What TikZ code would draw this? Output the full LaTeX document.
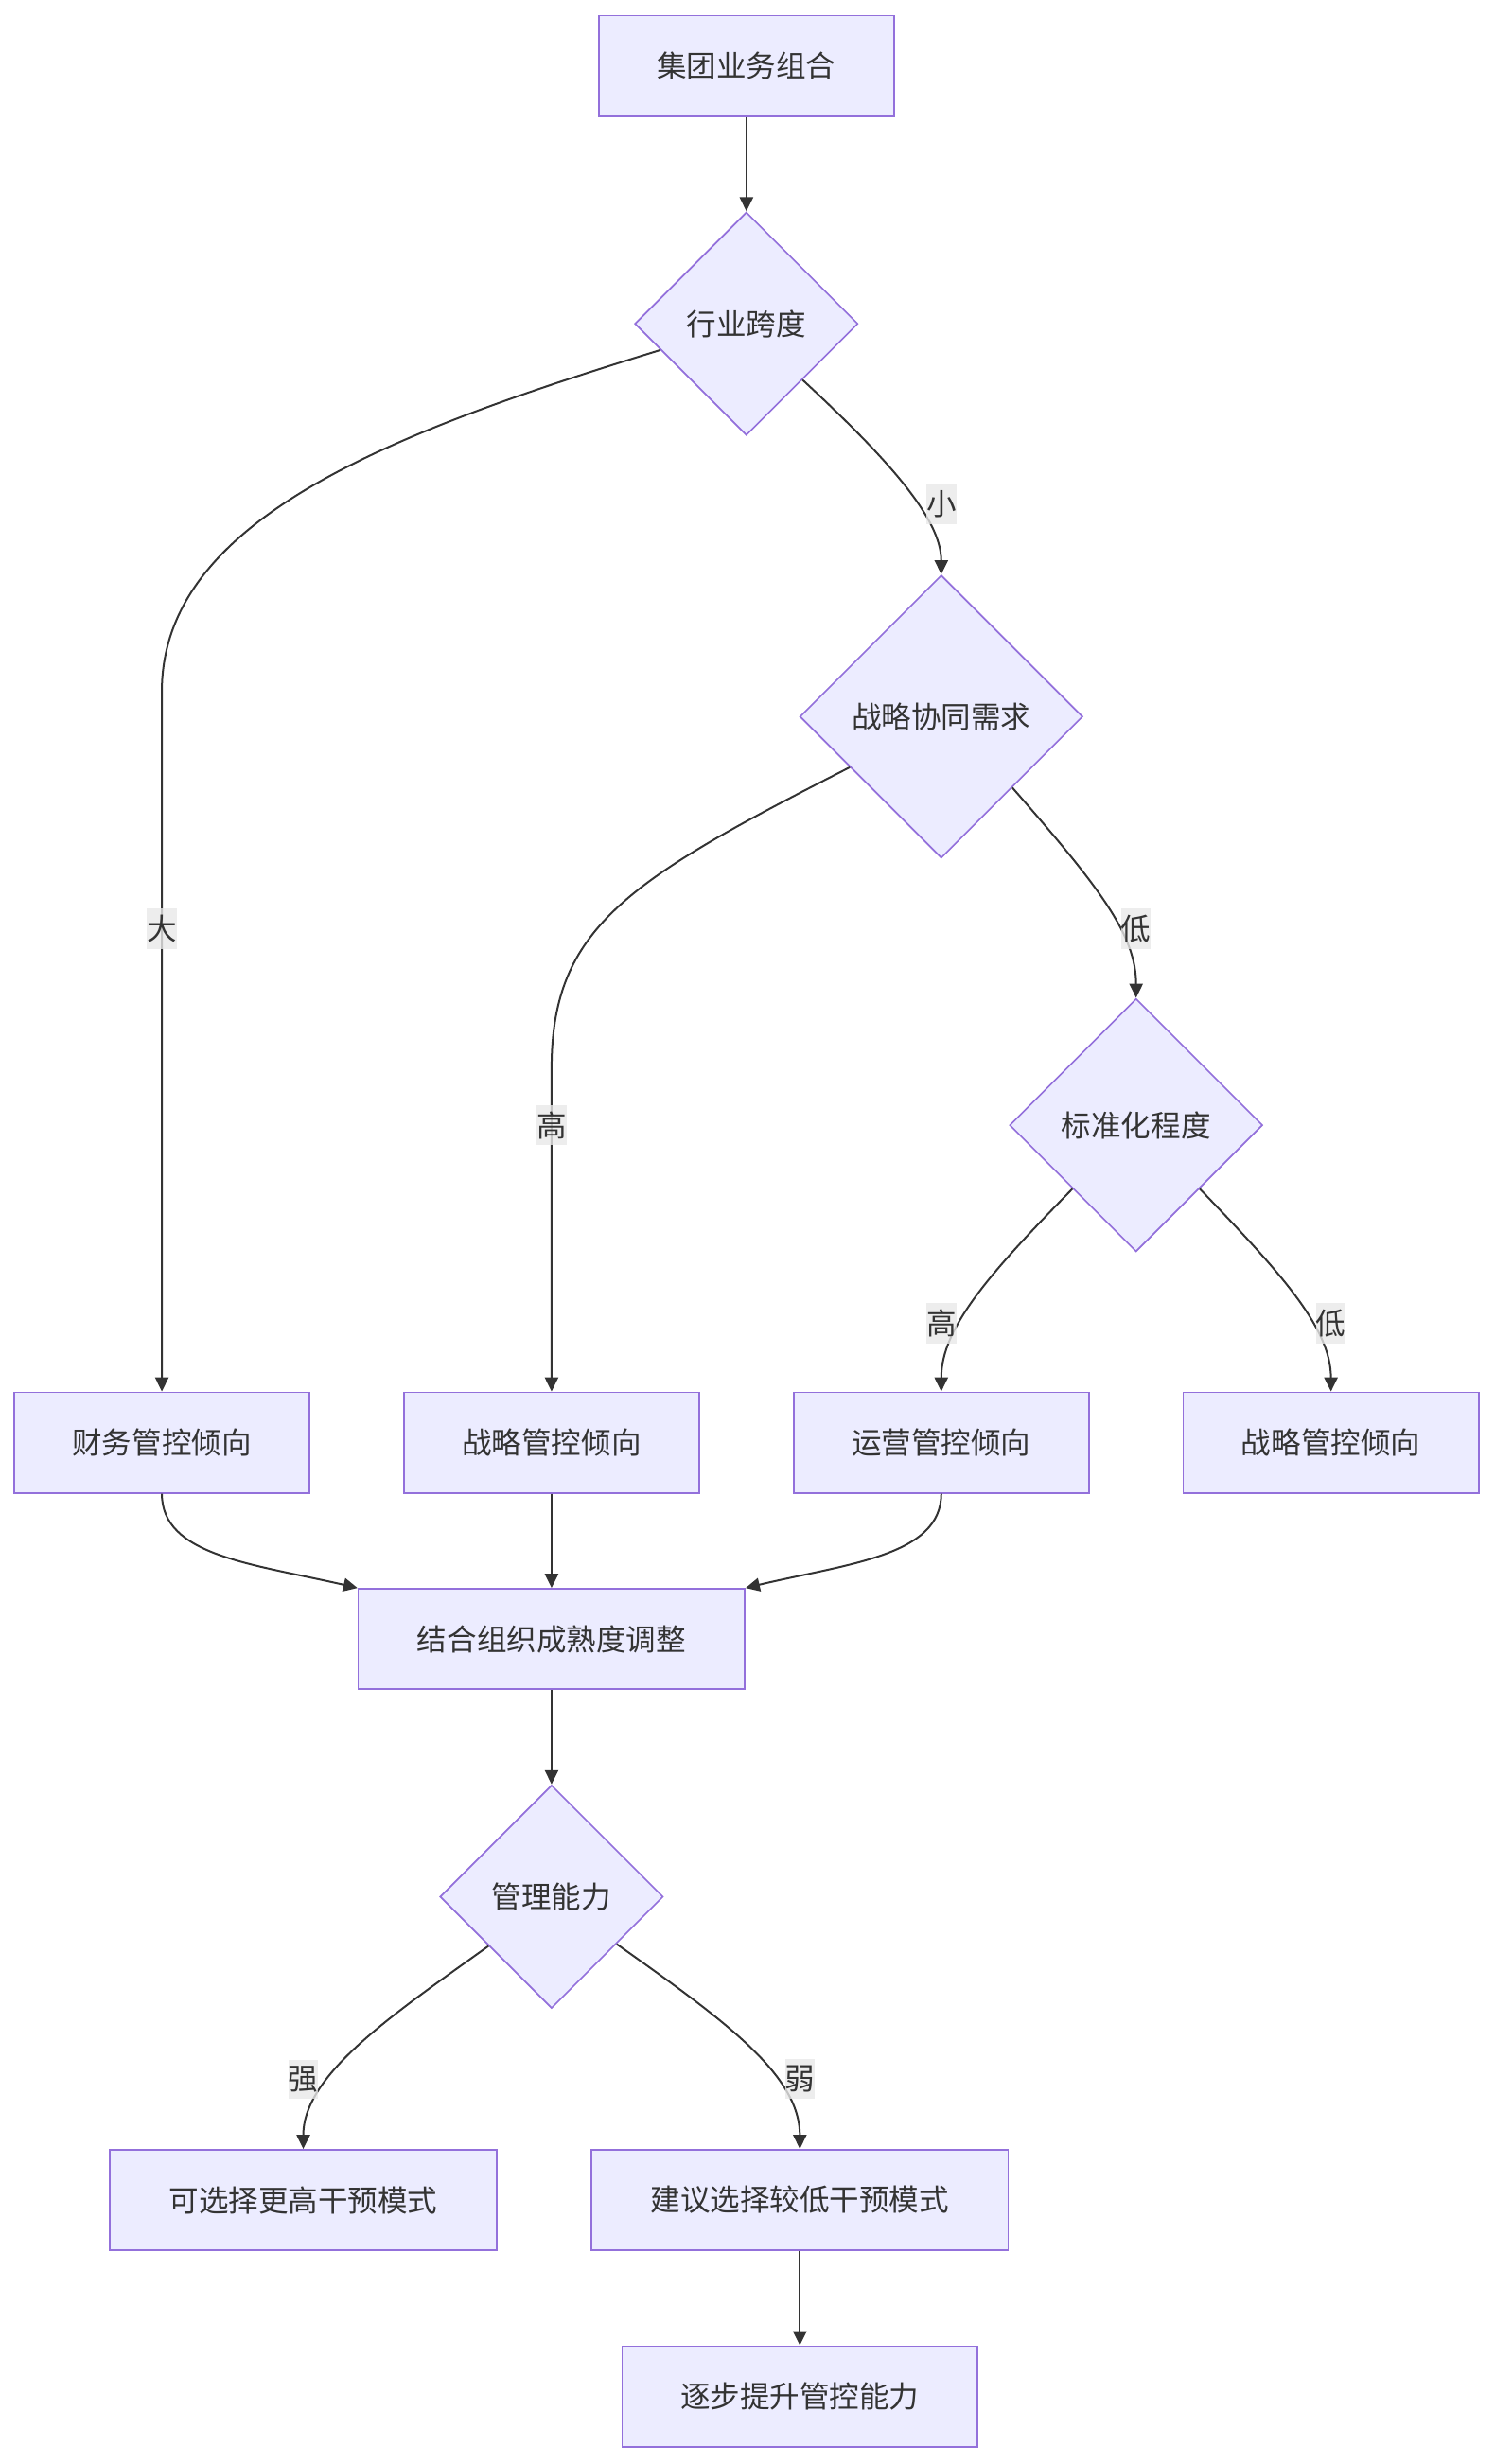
\documentclass[tikz,border=0pt]{standalone}
\usepackage{fontspec}
\setmainfont{Noto Sans CJK SC}
\usepackage{tikz}
\usetikzlibrary{arrows.meta, shapes.geometric}
\definecolor{NodeFill}{HTML}{ECECFF}
\definecolor{NodeBorder}{HTML}{9370DB}
\definecolor{EdgeGray}{HTML}{333333}
\definecolor{LabelGray}{HTML}{E8E8E8}
\definecolor{TextDark}{HTML}{333333}

\begin{document}
\begin{tikzpicture}[
    x=1pt, y=-1pt,
    procbox/.style={
        draw=NodeBorder,
        fill=NodeFill,
        line width=1pt,
        minimum height=64pt,
        inner sep=0pt,
        text=TextDark,
        font=\fontsize{19}{23}\selectfont
    },
    decision/.style={
        diamond,
        aspect=1,
        draw=NodeBorder,
        fill=NodeFill,
        line width=1pt,
        inner sep=0pt,
        text=TextDark,
        font=\fontsize{19}{23}\selectfont
    },
    flow/.style={
        draw=EdgeGray,
        line width=1.2pt,
        -{Triangle[width=8.5pt,length=9pt]}
    },
    edgelabel/.style={
        fill=LabelGray,
        fill opacity=0.8,
        text opacity=1,
        text=TextDark,
        inner xsep=0pt,
        inner ysep=4pt,
        font=\fontsize{19}{23}\selectfont
    }
]
\useasboundingbox (0,0) rectangle (951,1568);

% nodes
\node[procbox, minimum width=188pt] (portfolio) at (475,42) {集团业务组合};
\node[decision, minimum size=142pt] (span) at (475,206) {行业跨度};
\node[decision, minimum size=180pt] (synergy) at (599,456) {战略协同需求};
\node[decision, minimum size=161pt] (standard) at (723,716) {标准化程度};

\node[procbox, minimum width=188pt] (fin) at (103,918) {财务管控倾向};
\node[procbox, minimum width=188pt] (strat1) at (351,918) {战略管控倾向};
\node[procbox, minimum width=188pt] (oper) at (599,918) {运营管控倾向};
\node[procbox, minimum width=188pt] (strat2) at (847,918) {战略管控倾向};

\node[procbox, minimum width=246pt] (adjust) at (351,1043) {结合组织成熟度调整};
\node[decision, minimum size=142pt] (capab) at (351,1207) {管理能力};

\node[procbox, minimum width=246pt] (higher) at (193,1400) {可选择更高干预模式};
\node[procbox, minimum width=265pt] (lower) at (509,1400) {建议选择较低干预模式};
\node[procbox, minimum width=226pt] (improve) at (509,1525) {逐步提升管控能力};

% connectors
\draw[flow] (portfolio) -- (span);
\draw[flow] (span.197) .. controls (250,275) and (103,330) .. (103,440) -- (fin.north);
\draw[flow] (span.south east) .. controls (565,292) and (599,330) .. (synergy.north);
\draw[flow] (synergy.209) .. controls (400,560) and (351,590) .. (351,680) -- (strat1.north);
\draw[flow] (synergy.south east) .. controls (700,565) and (723,595) .. (standard.north);
\draw[flow] (standard.south west) .. controls (630,810) and (599,845) .. (oper.north);
\draw[flow] (standard.south east) .. controls (815,810) and (847,845) .. (strat2.north);

\draw[flow] (fin.south) .. controls (103,990) and (160,995) .. (adjust.north west);
\draw[flow] (strat1) -- (adjust);
\draw[flow] (oper.south) .. controls (599,990) and (540,995) .. (adjust.north east);
\draw[flow] (adjust) -- (capab);

\draw[flow] (capab.218) .. controls (250,1282) and (193,1320) .. (higher.north);
\draw[flow] (capab.-36) .. controls (460,1285) and (509,1320) .. (lower.north);
\draw[flow] (lower) -- (improve);

% edge labels
\node[edgelabel] (lblbig) at (103,591) {大};
\node[edgelabel] (lblsmall) at (599,321) {小};
\node[edgelabel] (lblhigh) at (351,716) {高};
\node[edgelabel] (lbllow) at (723,591) {低};
\node[edgelabel] (lblhigh2) at (599,842) {高};
\node[edgelabel] (lbllow2) at (847,842) {低};
\node[edgelabel] (lblstrong) at (193,1323) {强};
\node[edgelabel] (lblweak) at (509,1323) {弱};
\end{tikzpicture}
\end{document}
